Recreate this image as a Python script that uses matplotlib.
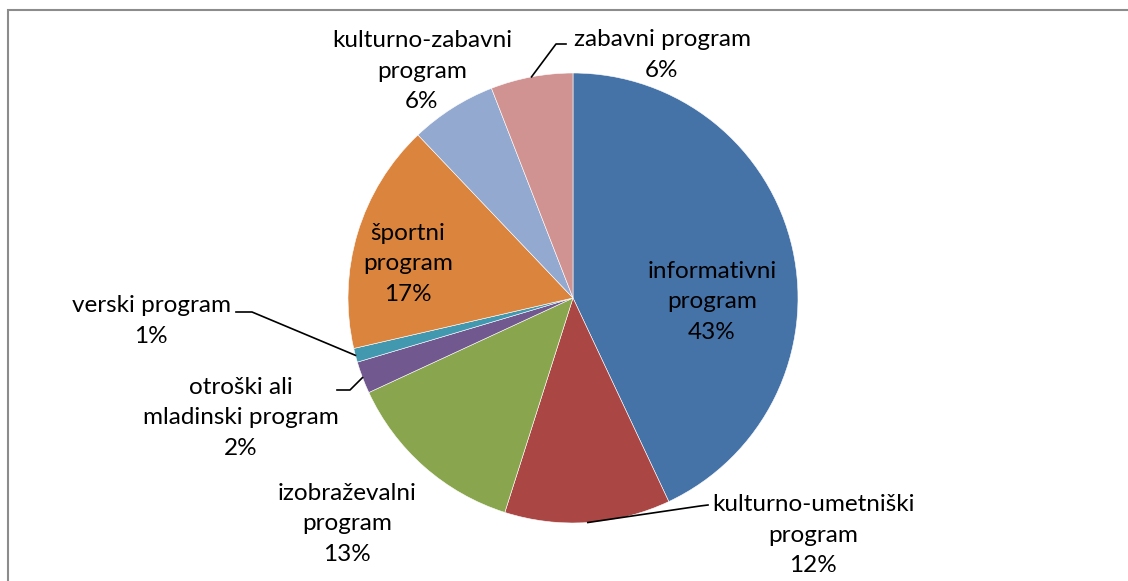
import matplotlib.pyplot as plt
import numpy as np
from matplotlib.patches import Rectangle

# pie data, clockwise from 12 o'clock
labels = ['informativni\nprogram', 'kulturno-umetniški\nprogram', 'izobraževalni\nprogram',
          'otroški ali\nmladinski program', 'verski program', 'športni\nprogram',
          'kulturno-zabavni\nprogram', 'zabavni program']
shares = [43.0, 11.9, 13.2, 2.3, 1.0, 16.5, 6.2, 5.9]
pct_labels = ['43%', '12%', '13%', '2%', '1%', '17%', '6%', '6%']
colors = ['#4572A7', '#AA4643', '#89A54E', '#71588F', '#4198AF', '#DB843D', '#93A9CF', '#D19392']

W, H = 1128, 581
plt.rcParams['font.family'] = ['Lato', 'DejaVu Sans']

fig = plt.figure(figsize=(W / 100, H / 100), dpi=100)
ax = fig.add_axes([0, 0, 1, 1])

# chart border
ax.add_patch(Rectangle((7.5, -10), W + 20, H - 9.5 + 10, fill=False, ec='#8c8c8c', lw=1.5))

cx, cy, r = 573, H - 298, 225
wedges, _ = ax.pie(shares, colors=colors, startangle=90, counterclock=False,
                   center=(cx, cy), radius=r, frame=True,
                   wedgeprops=dict(edgecolor='white', linewidth=0.4))
ax.set_xlim(0, W)
ax.set_ylim(0, H)
ax.set_aspect('equal')
ax.axis('off')

# label positions (pixel coords from top-left)
label_pos = [(712, 302), (813, 535), (347, 524), (241, 418), (151, 321),
             (408, 264), (422, 71), (662, 55)]
for lab, pct, (x, y) in zip(labels, pct_labels, label_pos):
    ax.text(x, H - y, lab + '\n' + pct, ha='center', va='center', fontsize=17.5,
            linespacing=1.55, color='black')

# leader lines: index -> (elbow, end near text)
leaders = {1: [(700, 506), (708, 505)],
           3: [(350, 390), (337, 390)],
           4: [(252, 312), (236, 312)],
           7: [(556, 44), (566, 44)]}
for i, pts in leaders.items():
    w = wedges[i]
    ang = np.deg2rad((w.theta1 + w.theta2) / 2)
    x0, y0 = cx + r * np.cos(ang), cy + r * np.sin(ang)
    xs = [x0] + [p[0] for p in pts]
    ys = [y0] + [H - p[1] for p in pts]
    ax.plot(xs, ys, color='black', lw=1.2)

fig.savefig('out.png', dpi=100)
